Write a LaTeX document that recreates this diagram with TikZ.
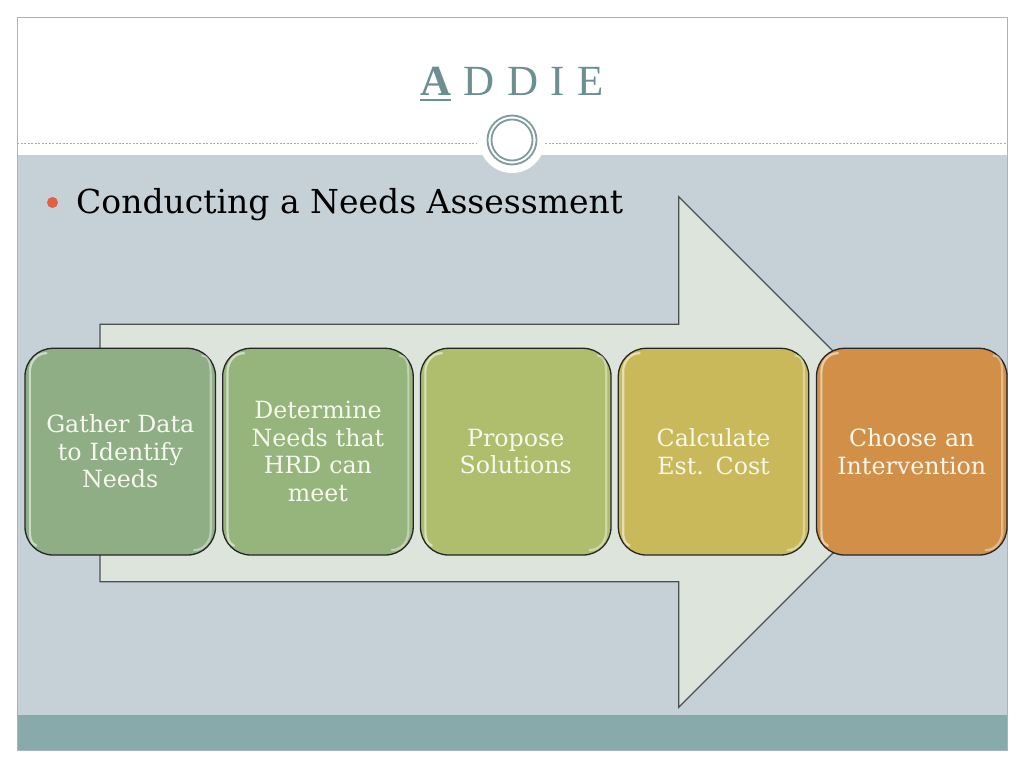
\documentclass[tikz,border=0pt]{standalone}
\usepackage{fontspec}
\setmainfont{DejaVu Serif}
\newfontfamily\titlefont{Liberation Serif}
\definecolor{bggray}{HTML}{C6D1D7}
\definecolor{bandteal}{HTML}{89AAAA}
\definecolor{framec}{HTML}{A3B8B8}
\definecolor{dashc}{HTML}{9DB0B0}
\definecolor{ringc}{HTML}{7F9C9C}
\definecolor{titlec}{HTML}{6C9090}
\definecolor{arrowfill}{HTML}{DCE4DC}
\definecolor{arrowline}{HTML}{4A5050}
\definecolor{bulletc}{HTML}{E0603F}
\definecolor{boxa}{HTML}{8FAE86}
\definecolor{boxb}{HTML}{96B57C}
\definecolor{boxc}{HTML}{AEBE6D}
\definecolor{boxd}{HTML}{C9B95B}
\definecolor{boxe}{HTML}{D18F47}
\definecolor{boxtext}{HTML}{F6F8EE}
\tikzset{
  stagebox/.style={draw=black!85, line width=1.3pt, rounded corners=28pt,
    minimum width=190.5pt, minimum height=206.7pt, text width=175pt,
    align=center, text=boxtext, inner sep=0pt,
    font=\fontsize{23.7}{27.5}\selectfont},
  gloss/.style={draw=white, draw opacity=0.55, line width=2.2pt, line cap=round},
  titleletter/.style={inner sep=0pt, anchor=base west, text=titlec,
    font=\titlefont\fontsize{43}{43}\selectfont},
}
\begin{document}
\begin{tikzpicture}[x=1pt,y=-1pt]
\useasboundingbox (0,0) rectangle (1024,768);
\fill[white] (0,0) rectangle (1024,768);
% slide regions
\fill[bggray] (17,155) rectangle (1007,715);
\fill[bandteal] (17,715) rectangle (1007,750.5);
\draw[framec, line width=0.8pt] (17,17) rectangle (1007,750.5);
\draw[dashc, line width=0.8pt, dash pattern=on 2pt off 1.5pt] (17,143) -- (477,143);
\draw[dashc, line width=0.8pt, dash pattern=on 2pt off 1.5pt] (545,143) -- (1007,143);
\fill[white] (512,140) circle (33);
\draw[ringc, line width=1.8pt] (512,140) circle (24.5);
\draw[ringc, line width=1.8pt] (512,140) circle (20.5);
% title
\node[titleletter] (tA) at (420,95) {\bfseries A};
\node[titleletter] (tD1) at ([xshift=12pt]tA.base east) {D};
\node[titleletter] (tD2) at ([xshift=12pt]tD1.base east) {D};
\node[titleletter] (tI) at ([xshift=12pt]tD2.base east) {I};
\node[titleletter] (tE) at ([xshift=12pt]tI.base east) {E};
\draw[titlec, line width=2.6pt] ([yshift=-5pt]tA.base west) -- ([yshift=-5pt]tA.base east);
% bullet
\fill[bulletc] (52.5,202.5) circle (5.5);
\node[anchor=base west, inner sep=0pt, font=\fontsize{33}{33}\selectfont] (bul) at (76,213) {Conducting a Needs Assessment};
% big arrow
\draw[arrowline, fill=arrowfill, line width=1.2pt, line join=miter]
  (100,324.3) -- (678.7,324.3) -- (678.7,196.7) -- (934,452) -- (678.7,707.3)
  -- (678.7,581.7) -- (100,581.7) -- cycle;
% stage boxes
\node[stagebox, fill=boxa] (b1) at (120.25,451.65) {Gather Data\\to Identify\\Needs};
\node[stagebox, fill=boxb] (b2) at (317.95,451.65) {Determine\\Needs that\\HRD can\\meet};
\node[stagebox, fill=boxc] (b3) at (515.75,451.65) {Propose\\Solutions};
\node[stagebox, fill=boxd] (b4) at (713.55,451.65) {Calculate\\Est. Cost};
\node[stagebox, fill=boxe] (b5) at (911.75,451.65) {Choose an\\Intervention};
\foreach \b in {b1,b2,b3,b4,b5}{
  % left highlight
  \draw[gloss] ([xshift=22pt,yshift=-5.5pt]\b.north west)
     to[out=180,in=90] ([xshift=5.5pt,yshift=-24pt]\b.north west)
     -- ([xshift=5.5pt,yshift=26pt]\b.south west)
     to[out=-90,in=160] ([xshift=12pt,yshift=10pt]\b.south west);
  % right highlight
  \draw[gloss, draw opacity=0.4] ([xshift=-14pt,yshift=-8pt]\b.north east)
     to[out=0,in=90] ([xshift=-5.5pt,yshift=-26pt]\b.north east)
     -- ([xshift=-5.5pt,yshift=24pt]\b.south east)
     to[out=-90,in=0] ([xshift=-22pt,yshift=5.5pt]\b.south east);
}
\end{tikzpicture}
\end{document}
